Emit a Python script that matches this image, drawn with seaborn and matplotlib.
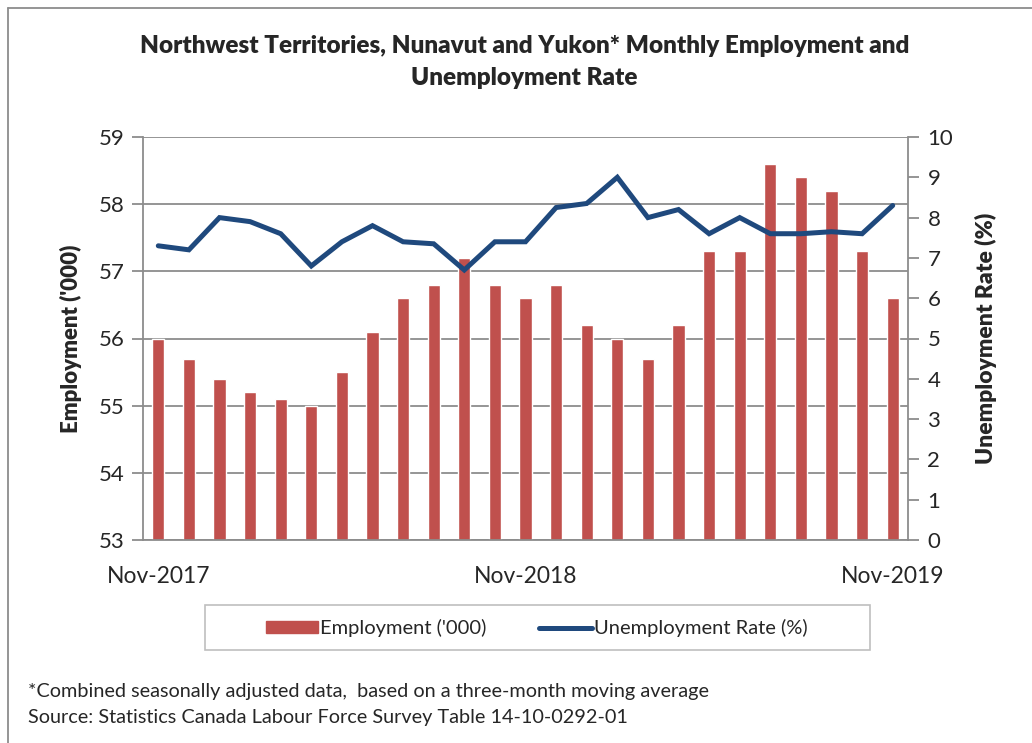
import matplotlib
matplotlib.use("Agg")
import matplotlib.pyplot as plt
import matplotlib.patches as mpatches
from matplotlib.lines import Line2D
import numpy as np
import pandas as pd
import seaborn as sns

# ─── Data ─────────────────────────────────────────────────────────────────────
months = pd.date_range("2017-11-01", "2019-11-01", freq="MS").strftime("%b-%Y").tolist()
employment = [56.0, 55.7, 55.4, 55.2, 55.1, 55.0, 55.5, 56.1, 56.6, 56.8, 57.2, 56.8, 56.6,
              56.8, 56.2, 56.0, 55.7, 56.2, 57.3, 57.3, 58.6, 58.4, 58.2, 57.3, 56.6]
unemp_rate = [7.3, 7.2, 8.0, 7.9, 7.6, 6.8, 7.4, 7.8, 7.4, 7.35, 6.7, 7.4, 7.4,
              8.25, 8.35, 9.0, 8.0, 8.2, 7.6, 8.0, 7.6, 7.6, 7.65, 7.6, 8.3]
label_months = ["Nov-2017", "Nov-2018", "Nov-2019"]

BAR_COLOR = "#C0504D"
LINE_COLOR = "#1F497D"
GRID_COLOR = "#8C8C8C"

sns.set_style("white")
plt.rcParams["font.family"] = ["Lato", "DejaVu Sans"]

df = pd.DataFrame({"Month": months, "Employment": employment, "Rate": unemp_rate})
df["idx"] = np.arange(len(df))

fig = plt.figure(figsize=(10.32, 7.43), dpi=100)
fig.patch.set_facecolor("white")
ax = fig.add_axes([143 / 1032, 1 - 540 / 743, 765 / 1032, 403 / 743])

sns.barplot(data=df, x="Month", y="Employment", color=BAR_COLOR, width=0.4,
            saturation=1, ax=ax, order=months)
ax.set_ylim(53, 59)
ax.set_xlim(-0.5, len(months) - 0.5)
ax.set_yticks(range(53, 60))
ax.yaxis.grid(True, color=GRID_COLOR, linewidth=1.3)
ax.set_axisbelow(True)

# x ticks: labels on selected months, tick marks on category boundaries
lab_pos = [months.index(m) for m in label_months]
ax.set_xticks(lab_pos)
ax.set_xticklabels(label_months, fontsize=16.5)
ax.set_xticks(np.arange(-0.5, len(months)), minor=True)
ax.tick_params(axis="x", which="major", length=0, pad=19)
ax.tick_params(axis="x", which="minor", length=7, width=1.3, color=GRID_COLOR, direction="out")
ax.tick_params(axis="y", length=8, width=1.3, color=GRID_COLOR, labelsize=16, pad=5)
ax.set_xlabel("")
ax.set_ylabel("Employment ('000)", fontsize=16, fontweight="heavy", labelpad=12)

for side in ["top", "right"]:
    ax.spines[side].set_visible(False)
for side in ["left", "bottom"]:
    ax.spines[side].set_color(GRID_COLOR)
    ax.spines[side].set_linewidth(1.3)

ax2 = ax.twinx()
sns.lineplot(data=df, x="idx", y="Rate", color=LINE_COLOR, linewidth=3.6, ax=ax2,
             solid_capstyle="round", solid_joinstyle="miter")
ax2.set_ylim(0, 10)
ax2.set_yticks(range(0, 11))
ax2.set_xlim(-0.5, len(months) - 0.5)
ax2.tick_params(axis="y", length=8, width=1.3, color=GRID_COLOR, labelsize=16, pad=6)
ax2.set_ylabel("Unemployment Rate (%)", fontsize=16.5, fontweight="heavy", labelpad=16)
for side in ["top", "left", "bottom"]:
    ax2.spines[side].set_visible(False)
ax2.spines["right"].set_color(GRID_COLOR)
ax2.spines["right"].set_linewidth(1.3)

fig.text(0.508, 1 - 46 / 743, "Northwest Territories, Nunavut and Yukon* Monthly Employment and",
         ha="center", va="center", fontsize=17.5, fontweight="heavy")
fig.text(0.508, 1 - 78 / 743, "Unemployment Rate", ha="center", va="center",
         fontsize=17.5, fontweight="heavy")

# legend with a wide frame
fig.add_artist(mpatches.Rectangle((205 / 1032, 1 - 650 / 743), 665 / 1032, 45 / 743,
                                  transform=fig.transFigure, facecolor="white",
                                  edgecolor="#BFBFBF", linewidth=1.2))
handles = [mpatches.Patch(color=BAR_COLOR, label="Employment ('000)"),
           Line2D([0], [0], color=LINE_COLOR, linewidth=3.6, solid_capstyle="round",
                  label="Unemployment Rate (%)")]
fig.legend(handles=handles, loc="center", bbox_to_anchor=(0.52, 1 - 628 / 743), ncol=2,
           frameon=False, fontsize=14.5, handlelength=2.6, handleheight=0.5,
           handletextpad=0.1, columnspacing=2.6)

fig.text(28 / 1032, 1 - 692 / 743,
         "*Combined seasonally adjusted data,  based on a three-month moving average",
         ha="left", va="center", fontsize=14.3)
fig.text(28 / 1032, 1 - 718 / 743,
         "Source: Statistics Canada Labour Force Survey Table 14-10-0292-01",
         ha="left", va="center", fontsize=14.3)

# chart border (left and top edges visible)
fig.add_artist(Line2D([8 / 1032, 8 / 1032], [0, 1 - 8 / 743], transform=fig.transFigure,
                      color="#8C8C8C", linewidth=1.3))
fig.add_artist(Line2D([8 / 1032, 1], [1 - 8 / 743, 1 - 8 / 743], transform=fig.transFigure,
                      color="#8C8C8C", linewidth=1.3))

fig.savefig("out.png", dpi=100)
